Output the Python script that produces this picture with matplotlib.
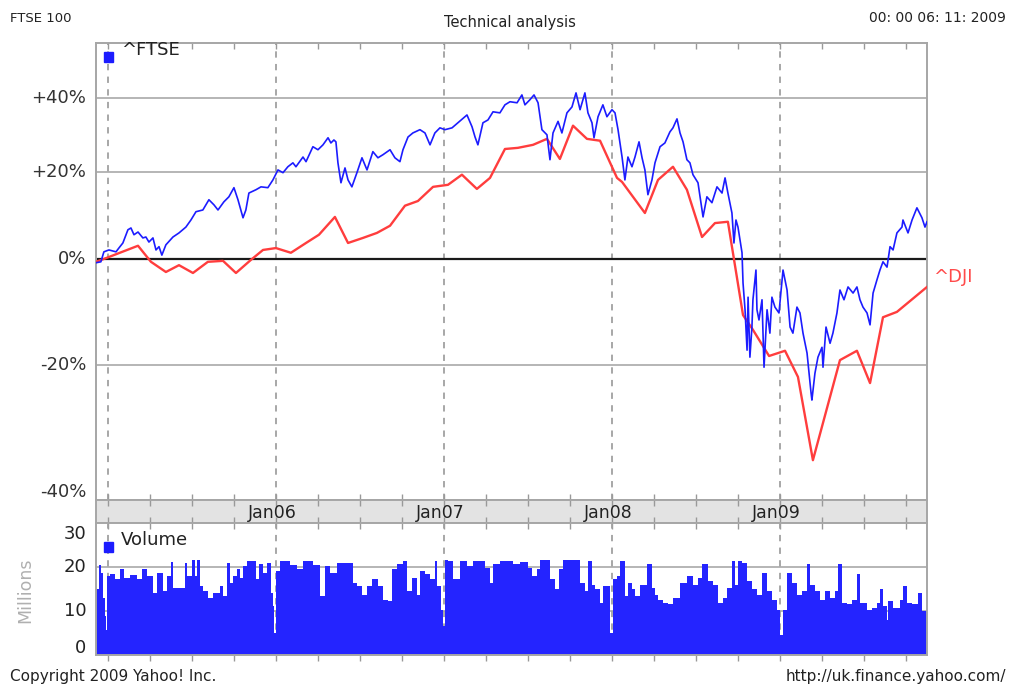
import matplotlib
matplotlib.use("Agg")
import matplotlib.pyplot as plt
from matplotlib.ticker import NullLocator, NullFormatter
from matplotlib.patches import Rectangle
from matplotlib.transforms import offset_copy

# ---------------- data (x in decimal years) ----------------
ftse_t = [2004.929, 2004.958, 2004.976, 2005.006, 2005.048, 2005.065, 2005.089, 2005.119, 2005.137, 2005.155,
          2005.179, 2005.208, 2005.226, 2005.244, 2005.268, 2005.286, 2005.304, 2005.321, 2005.345, 2005.387,
          2005.423, 2005.464, 2005.494, 2005.524, 2005.565, 2005.601, 2005.631, 2005.655, 2005.690, 2005.720,
          2005.750, 2005.774, 2005.804, 2005.821, 2005.839, 2005.881, 2005.911, 2005.952, 2005.982, 2006.012,
          2006.042, 2006.071, 2006.101, 2006.119, 2006.161, 2006.179, 2006.220, 2006.250, 2006.280, 2006.310,
          2006.327, 2006.345, 2006.357, 2006.369, 2006.387, 2006.411, 2006.429, 2006.452, 2006.482, 2006.512,
          2006.542, 2006.577, 2006.607, 2006.637, 2006.679, 2006.708, 2006.738, 2006.756, 2006.786, 2006.815,
          2006.857, 2006.887, 2006.917, 2006.946, 2006.976, 2007.006, 2007.048, 2007.083, 2007.137, 2007.167,
          2007.185, 2007.202, 2007.232, 2007.262, 2007.292, 2007.333, 2007.363, 2007.393, 2007.435, 2007.464,
          2007.482, 2007.512, 2007.536, 2007.560, 2007.583, 2007.613, 2007.631, 2007.649, 2007.679, 2007.702,
          2007.732, 2007.762, 2007.786, 2007.810, 2007.839, 2007.857, 2007.881, 2007.893, 2007.917, 2007.946,
          2007.970, 2008.000, 2008.018, 2008.036, 2008.060, 2008.077, 2008.095, 2008.119, 2008.137, 2008.161,
          2008.179, 2008.196, 2008.214, 2008.238, 2008.256, 2008.286, 2008.315, 2008.345, 2008.363, 2008.387,
          2008.405, 2008.423, 2008.446, 2008.464, 2008.482, 2008.512, 2008.542, 2008.565, 2008.595, 2008.625,
          2008.655, 2008.673, 2008.690, 2008.714, 2008.726, 2008.738, 2008.750, 2008.774, 2008.780, 2008.792,
          2008.804, 2008.810, 2008.821, 2008.833, 2008.839, 2008.857, 2008.863, 2008.875, 2008.893, 2008.905,
          2008.923, 2008.940, 2008.952, 2008.970, 2008.994, 2009.018, 2009.042, 2009.060, 2009.077, 2009.101,
          2009.119, 2009.137, 2009.161, 2009.167, 2009.185, 2009.190, 2009.208, 2009.226, 2009.250, 2009.256,
          2009.274, 2009.298, 2009.315, 2009.339, 2009.357, 2009.381, 2009.405, 2009.435, 2009.458, 2009.476,
          2009.494, 2009.518, 2009.536, 2009.554, 2009.577, 2009.595, 2009.613, 2009.637, 2009.655, 2009.673,
          2009.696, 2009.726, 2009.732, 2009.762, 2009.786, 2009.815, 2009.845, 2009.863, 2009.875]
ftse_pct = [-0.8, -0.6, 1.5, 1.9, 1.5, 2.3, 3.4, 6.3, 6.7, 5.2,
            5.8, 4.5, 4.7, 3.6, 4.5, 1.9, 2.6, 0.8, 3.0, 4.7,
            5.6, 6.9, 8.5, 10.4, 10.8, 13.2, 12.0, 10.8, 12.7, 13.9,
            16.1, 13.2, 9.0, 10.8, 14.8, 15.6, 16.3, 16.1, 18.0, 20.5,
            19.8, 21.3, 22.3, 21.3, 23.8, 22.6, 26.5, 25.7, 27.0, 28.9,
            27.5, 28.3, 27.8, 22.3, 17.3, 21.0, 18.0, 16.3, 19.8, 23.6,
            20.5, 25.2, 23.6, 24.4, 25.7, 23.6, 22.6, 25.7, 29.1, 30.2,
            31.1, 30.2, 27.0, 30.2, 31.6, 31.1, 31.6, 33.0, 35.2, 31.9,
            29.1, 27.0, 33.0, 33.8, 36.1, 35.8, 38.1, 39.0, 38.7, 41.0,
            38.1, 39.6, 41.0, 38.7, 31.1, 29.7, 23.1, 30.2, 33.4, 30.2,
            35.8, 37.5, 41.6, 36.7, 41.6, 35.8, 33.0, 28.9, 34.7, 38.1,
            34.7, 36.7, 35.8, 31.1, 23.8, 18.0, 23.8, 21.3, 23.8, 27.8,
            23.6, 20.5, 14.4, 18.0, 22.3, 26.5, 27.5, 30.5, 31.6, 34.1,
            30.2, 27.8, 23.1, 22.3, 19.3, 17.3, 9.2, 13.9, 12.5, 16.3,
            14.8, 18.5, 14.8, 10.1, 3.4, 8.5, 6.9, 1.3, -4.9, -10.1,
            -17.4, -7.7, -18.6, -13.3, -8.2, -2.3, -10.1, -12.0, -8.2, -20.3,
            -10.1, -14.4, -7.7, -9.6, -10.7, -2.3, -6.3, -13.3, -14.4, -9.6,
            -10.7, -14.4, -17.9, -19.6, -24.5, -25.6, -21.3, -18.6, -16.9, -20.3,
            -13.3, -16.2, -14.4, -10.7, -6.3, -8.2, -5.7, -6.9, -5.7, -8.2,
            -9.6, -10.7, -12.9, -6.9, -4.3, -2.3, -0.6, -1.7, 2.6, 1.9,
            5.6, 6.9, 8.5, 5.6, 8.5, 11.3, 9.0, 6.9, 8.1]

dji_t = [2004.929, 2004.976, 2005.179, 2005.256, 2005.345, 2005.423, 2005.506, 2005.595, 2005.685, 2005.762,
         2005.851, 2005.923, 2006.000, 2006.089, 2006.179, 2006.256, 2006.351, 2006.429, 2006.518, 2006.601,
         2006.679, 2006.768, 2006.845, 2006.935, 2007.024, 2007.107, 2007.196, 2007.274, 2007.363, 2007.440,
         2007.530, 2007.613, 2007.690, 2007.768, 2007.851, 2007.929, 2008.030, 2008.060, 2008.196, 2008.274,
         2008.363, 2008.446, 2008.536, 2008.613, 2008.690, 2008.780, 2008.839, 2008.935, 2009.030, 2009.107,
         2009.196, 2009.357, 2009.458, 2009.536, 2009.613, 2009.696, 2009.875]
dji_pct = [-0.6, 0.0, 2.8, -0.6, -2.7, -1.3, -2.9, -0.6, -0.4, -2.9,
           -0.2, 1.9, 2.3, 1.3, 3.4, 5.2, 9.2, 3.4, 4.5, 5.6,
           7.2, 11.8, 12.9, 16.3, 16.8, 19.3, 15.8, 18.5, 25.9, 26.2,
           27.0, 28.6, 23.3, 32.2, 28.6, 28.1, 18.5, 17.5, 10.1, 18.0,
           21.3, 15.6, 4.7, 7.8, 8.1, -11.1, -13.8, -18.4, -17.5, -21.9,
           -34.4, -19.1, -17.5, -22.9, -11.5, -10.5, -5.7]

vol_edges = [2004.929, 2004.945, 2004.957, 2004.968, 2004.984, 2004.990, 2004.996, 2005.012, 2005.042, 2005.071,
             2005.095, 2005.131, 2005.171, 2005.200, 2005.230, 2005.270, 2005.290, 2005.329, 2005.349, 2005.373,
             2005.389, 2005.419, 2005.458, 2005.472, 2005.498, 2005.518, 2005.528, 2005.548, 2005.567, 2005.597,
             2005.627, 2005.667, 2005.686, 2005.706, 2005.726, 2005.746, 2005.770, 2005.786, 2005.806, 2005.825,
             2005.881, 2005.901, 2005.925, 2005.944, 2005.968, 2005.980, 2005.988, 2006.000, 2006.024, 2006.083,
             2006.123, 2006.163, 2006.222, 2006.262, 2006.292, 2006.321, 2006.361, 2006.460, 2006.480, 2006.510,
             2006.540, 2006.569, 2006.609, 2006.639, 2006.669, 2006.688, 2006.718, 2006.758, 2006.778, 2006.808,
             2006.837, 2006.857, 2006.887, 2006.917, 2006.946, 2006.960, 2006.980, 2006.992, 2007.006, 2007.026,
             2007.056, 2007.095, 2007.135, 2007.175, 2007.244, 2007.274, 2007.294, 2007.333, 2007.413, 2007.452,
             2007.502, 2007.522, 2007.552, 2007.571, 2007.631, 2007.661, 2007.687, 2007.710, 2007.810, 2007.839,
             2007.859, 2007.879, 2007.899, 2007.929, 2007.948, 2007.968, 2007.988, 2008.008, 2008.028, 2008.048,
             2008.077, 2008.097, 2008.117, 2008.137, 2008.167, 2008.206, 2008.236, 2008.256, 2008.276, 2008.306,
             2008.335, 2008.365, 2008.405, 2008.444, 2008.484, 2008.514, 2008.534, 2008.573, 2008.603, 2008.633,
             2008.663, 2008.683, 2008.712, 2008.732, 2008.752, 2008.772, 2008.802, 2008.831, 2008.861, 2008.891,
             2008.921, 2008.950, 2008.980, 2009.000, 2009.016, 2009.040, 2009.069, 2009.099, 2009.129, 2009.159,
             2009.179, 2009.208, 2009.238, 2009.268, 2009.298, 2009.327, 2009.347, 2009.367, 2009.397, 2009.427,
             2009.456, 2009.476, 2009.516, 2009.546, 2009.575, 2009.595, 2009.615, 2009.635, 2009.645, 2009.675,
             2009.714, 2009.734, 2009.754, 2009.784, 2009.823, 2009.843, 2009.875]
vol_millions = [15.0, 20.4, 18.7, 13.0, 8.8, 5.7, 17.9, 18.5, 17.2, 19.5,
                17.5, 18.1, 17.2, 19.5, 18.0, 14.1, 18.7, 14.5, 17.9, 21.1,
                15.2, 15.3, 21.0, 17.9, 21.7, 17.9, 21.7, 15.6, 14.5, 13.0,
                14.1, 15.6, 13.4, 21.0, 16.4, 17.9, 19.5, 17.5, 20.2, 21.4,
                17.2, 20.6, 18.7, 21.0, 14.1, 11.1, 5.0, 19.1, 21.4, 20.5,
                19.5, 21.4, 20.4, 13.4, 20.2, 18.7, 21.0, 16.4, 15.6, 13.7,
                15.6, 17.2, 15.6, 12.6, 12.2, 19.5, 20.6, 21.4, 14.5, 17.5,
                13.7, 19.1, 18.3, 17.2, 21.4, 15.6, 10.3, 6.5, 21.7, 21.4,
                17.2, 21.4, 20.2, 21.4, 19.8, 16.4, 20.6, 21.4, 20.6, 21.2,
                19.8, 17.9, 19.5, 21.7, 17.2, 14.9, 19.5, 21.7, 16.4, 14.5,
                21.4, 16.0, 14.9, 11.8, 15.6, 15.6, 5.0, 17.2, 17.9, 21.4,
                13.4, 16.4, 14.9, 13.4, 16.0, 20.6, 15.3, 13.7, 12.6, 11.8,
                11.5, 13.0, 16.4, 17.9, 16.0, 17.5, 20.6, 16.8, 16.0, 11.8,
                13.0, 15.3, 21.4, 16.0, 21.4, 21.0, 16.8, 14.9, 13.7, 18.7,
                14.5, 12.6, 10.3, 4.6, 10.3, 18.7, 16.4, 13.7, 14.5, 20.6,
                16.0, 14.5, 12.6, 14.5, 13.0, 14.5, 20.6, 11.8, 11.5, 12.6,
                18.3, 11.8, 10.3, 10.7, 11.8, 14.9, 11.1, 8.0, 12.2, 10.7,
                12.6, 15.6, 11.8, 11.5, 14.1, 9.9]

pct_ticks = [40, 20, 0, -20, -40]
pct_labels = ["+40%", "+20%", "0%", "-20%", "-40%"]
year_ticks = [2005, 2006, 2007, 2008, 2009]
year_labels = ["Jan06", "Jan07", "Jan08", "Jan09"]
vol_ticks = [0, 10, 20, 30]
x_start, x_end = 2004.929, 2009.875

# ---------------- figure ----------------
W, H = 1011, 684
fig = plt.figure(figsize=(W / 100, H / 100), dpi=100)
fig.patch.set_facecolor("white")


def rect(x0, y0, x1, y1):
    return [x0 / W, 1 - y1 / H, (x1 - x0) / W, (y1 - y0) / H]


ax = fig.add_axes(rect(96, 43, 927, 500))
band = fig.add_axes(rect(96, 500, 927, 523))
axv = fig.add_axes(rect(96, 523, 927, 655))

frame_col = "#a6a6a6"
grid_col = "#b0b0b0"
dash_col = "#a0a0a0"
quarters = [y + q / 4 for y in range(2005, 2010) for q in range(4) if y + q / 4 <= x_end]

for a in (ax, band, axv):
    a.set_xlim(x_start, x_end)
    for s in a.spines.values():
        s.set_color(frame_col)
        s.set_linewidth(1.4)
    a.set_xticks(quarters)
    a.tick_params(axis="x", direction="in", top=True, bottom=True, length=4,
                  width=1, color="#999999", labelbottom=False)
    a.set_yticks([])

# ---- main panel ----
ax.set_yscale("log")
ax.set_ylim(0.6035, 1.572)
ax.yaxis.set_major_locator(NullLocator())
ax.yaxis.set_minor_locator(NullLocator())
ax.yaxis.set_minor_formatter(NullFormatter())
for p in pct_ticks:
    if p != 0:
        ax.axhline(1 + p / 100, color=grid_col, lw=1.3, zorder=1)
for yr in year_ticks:
    ax.axvline(yr, color=dash_col, lw=1.3, ls=(0, (3.5, 3.5)), zorder=1)
ax.axhline(1.0, color="#1a1a1a", lw=1.6, zorder=2)

ax.plot(dji_t, [1 + v / 100 for v in dji_pct], color="#ff3d3d", lw=1.7, zorder=3)
ax.plot(ftse_t, [1 + v / 100 for v in ftse_pct], color="#1c1cff", lw=1.2, zorder=4)

ytrans = ax.get_yaxis_transform()
for p, lab in zip(pct_ticks, pct_labels):
    dy = 0
    if p == -40:
        dy = 8
    t = offset_copy(ytrans, fig=fig, x=-7, y=dy, units="points")
    ax.text(0, 1 + p / 100, lab, transform=t, ha="right", va="center",
            fontsize=13, color="#333333", clip_on=False)

# legend for FTSE
fig.patches.append(Rectangle((104 / W, 1 - 62 / H), 9 / W, 10 / H,
                             transform=fig.transFigure, color="#1c1cff"))
fig.text(121 / W, 1 - 50 / H, "^FTSE", fontsize=13, color="#222222", va="center", ha="left")
fig.text(933 / W, 1 - 277 / H, "^DJI", fontsize=13, color="#ff4a4a", va="center", ha="left")

# ---- date band ----
band.set_facecolor("#e3e3e3")
band.set_ylim(0, 1)
for yr, lab in zip(year_ticks[1:], year_labels):
    band.text(yr - 0.02, 0.45, lab, ha="center", va="center", fontsize=12.5, color="#222222")

# ---- volume panel ----
axv.set_ylim(0, 30)
for v in (10, 20):
    axv.axhline(v, color=grid_col, lw=1.3, zorder=1)
for yr in year_ticks:
    axv.axvline(yr, color=dash_col, lw=1.3, ls=(0, (3.5, 3.5)), zorder=1)
axv.stairs(vol_millions, vol_edges, fill=True, color="#2424ff", zorder=2)
axv.tick_params(axis="x", top=False)
# bottom ticks of the volume panel point outward, top ones inward
axv_top = axv.secondary_xaxis("top")
axv_top.set_xticks(quarters)
axv_top.tick_params(axis="x", direction="in", length=4, width=1, color="#999999", labeltop=False)
axv_top.spines["top"].set_visible(False)
axv.tick_params(axis="x", direction="out", bottom=True, length=4)

vtrans = axv.get_yaxis_transform()
for v in vol_ticks:
    dy = 0
    if v == 30:
        dy = -8
    elif v == 0:
        dy = 5
    t = offset_copy(vtrans, fig=fig, x=-7, y=dy, units="points")
    axv.text(0, v, str(v), transform=t, ha="right", va="center",
             fontsize=13, color="#222222", clip_on=False)

fig.text(25 / W, 1 - 590 / H, "Millions", rotation=90, fontsize=12.5, color="#b0b0b0",
         ha="center", va="center")
fig.patches.append(Rectangle((104 / W, 1 - 552 / H), 9 / W, 10 / H,
                             transform=fig.transFigure, color="#1c1cff"))
fig.text(121 / W, 1 - 540 / H, "Volume", fontsize=13, color="#222222", va="center", ha="left")

# ---- header / footer ----
fig.text(10 / W, 1 - 18 / H, "FTSE 100", fontsize=9.5, color="#222222", ha="left", va="center")
fig.text(510 / W, 1 - 22 / H, "Technical analysis", fontsize=10.5, color="#222222", ha="center", va="center")
fig.text(1006 / W, 1 - 18 / H, "00: 00 06: 11: 2009", fontsize=10, color="#222222", ha="right", va="center")
fig.text(10 / W, 1 - 677 / H, "Copyright 2009 Yahoo! Inc.", fontsize=11, color="#222222", ha="left", va="center")
fig.text(1006 / W, 1 - 677 / H, "http://uk.finance.yahoo.com/", fontsize=11, color="#222222", ha="right", va="center")

fig.savefig("out.png", dpi=100)
